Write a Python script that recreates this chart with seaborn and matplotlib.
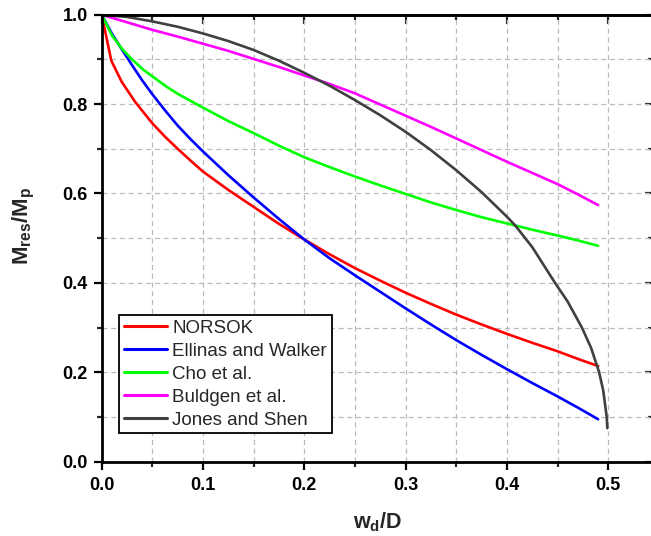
import matplotlib
matplotlib.use("Agg")
import matplotlib.pyplot as plt
from matplotlib.ticker import MultipleLocator, FormatStrFormatter
import seaborn as sns

# Residual moment capacity of dented tubes, M_res/M_p versus dent depth ratio w_d/D
norsok_x = [0.0, 0.0095, 0.0197, 0.033, 0.05, 0.0625, 0.075, 0.0875, 0.1, 0.125, 0.15,
            0.175, 0.2, 0.225, 0.25, 0.275, 0.3, 0.325, 0.35, 0.375, 0.4, 0.425, 0.45,
            0.47, 0.49]
norsok_y = [1.0, 0.897, 0.850, 0.805, 0.757, 0.727, 0.700, 0.674, 0.649, 0.608, 0.570,
            0.532, 0.497, 0.464, 0.433, 0.405, 0.378, 0.353, 0.329, 0.307, 0.286, 0.266,
            0.247, 0.230, 0.214]

ellinas_x = [0.0, 0.01, 0.02, 0.03, 0.04, 0.05, 0.0625, 0.075, 0.0875, 0.1, 0.125, 0.15,
             0.175, 0.2, 0.225, 0.25, 0.275, 0.3, 0.325, 0.35, 0.375, 0.4, 0.425, 0.45,
             0.47, 0.49]
ellinas_y = [1.0, 0.958, 0.922, 0.887, 0.853, 0.822, 0.786, 0.752, 0.722, 0.694, 0.641,
             0.591, 0.543, 0.497, 0.455, 0.417, 0.380, 0.343, 0.307, 0.272, 0.239, 0.207,
             0.176, 0.146, 0.121, 0.095]

cho_x = [0.0, 0.01, 0.021, 0.03, 0.041, 0.05, 0.064, 0.075, 0.1, 0.125, 0.15, 0.175,
         0.2, 0.225, 0.25, 0.275, 0.3, 0.325, 0.35, 0.375, 0.4, 0.425, 0.45, 0.47, 0.49]
cho_y = [1.0, 0.954, 0.921, 0.900, 0.877, 0.862, 0.839, 0.823, 0.792, 0.762, 0.735,
         0.707, 0.681, 0.659, 0.638, 0.618, 0.599, 0.580, 0.563, 0.547, 0.533, 0.519,
         0.506, 0.495, 0.483]

buldgen_x = [0.0, 0.025, 0.05, 0.075, 0.1, 0.125, 0.15, 0.175, 0.2, 0.225, 0.25, 0.275,
             0.3, 0.325, 0.35, 0.375, 0.4, 0.425, 0.45, 0.47, 0.49]
buldgen_y = [1.0, 0.983, 0.966, 0.951, 0.935, 0.919, 0.901, 0.883, 0.864, 0.845, 0.824,
             0.799, 0.774, 0.749, 0.723, 0.697, 0.671, 0.646, 0.621, 0.598, 0.574]

jones_x = [0.0, 0.025, 0.05, 0.075, 0.1, 0.125, 0.15, 0.175, 0.2, 0.225, 0.25, 0.275,
           0.3, 0.325, 0.35, 0.375, 0.4, 0.408, 0.425, 0.4475, 0.46, 0.474, 0.483,
           0.491, 0.495, 0.4985, 0.4991]
jones_y = [1.0, 0.995, 0.985, 0.973, 0.958, 0.941, 0.921, 0.897, 0.870, 0.841, 0.809,
           0.775, 0.738, 0.697, 0.652, 0.603, 0.548, 0.529, 0.480, 0.400, 0.358, 0.300,
           0.255, 0.200, 0.160, 0.100, 0.075]

series = [
    ("NORSOK", norsok_x, norsok_y, "#FF0000"),
    ("Ellinas and Walker", ellinas_x, ellinas_y, "#0000FF"),
    ("Cho et al.", cho_x, cho_y, "#00FF00"),
    ("Buldgen et al.", buldgen_x, buldgen_y, "#FF00FF"),
    ("Jones and Shen", jones_x, jones_y, "#404040"),
]

sns.set_theme(style="ticks")
plt.rcParams["font.family"] = ["Liberation Sans", "DejaVu Sans"]
plt.rcParams["mathtext.fontset"] = "custom"
plt.rcParams["mathtext.rm"] = "Liberation Sans:bold"
plt.rcParams["mathtext.it"] = "Liberation Sans:bold"
plt.rcParams["mathtext.bf"] = "Liberation Sans:bold"

fig = plt.figure(figsize=(6.51, 5.36), dpi=100)
ax = fig.add_axes([0.1562, 0.1386, 0.8466, 0.834])

for name, xs, ys, col in series:
    sns.lineplot(x=xs, y=ys, ax=ax, color=col, linewidth=1.9, label=name,
                 estimator=None, sort=False)

ax.set_xlim(0, 0.544)
ax.set_ylim(0, 1.0)
ax.xaxis.set_major_locator(MultipleLocator(0.1))
ax.xaxis.set_minor_locator(MultipleLocator(0.05))
ax.yaxis.set_major_locator(MultipleLocator(0.2))
ax.yaxis.set_minor_locator(MultipleLocator(0.1))
ax.xaxis.set_major_formatter(FormatStrFormatter("%.1f"))
ax.yaxis.set_major_formatter(FormatStrFormatter("%.1f"))

ax.grid(True, which="both", color="#BBBBBB", linestyle=(0, (4, 3)), linewidth=0.9)
ax.set_axisbelow(True)

for s in ax.spines.values():
    s.set_linewidth(2.0)
    s.set_color("black")
    s.set_visible(True)

ax.tick_params(axis="both", which="major", direction="out", length=6, width=1.6,
               labelsize=13, colors="black", bottom=True, left=True, top=False, right=False)
ax.tick_params(axis="both", which="minor", direction="out", length=3.5, width=1.6,
               bottom=True, left=True, top=False, right=False)
ax.tick_params(axis="x", which="major", pad=5)
ax.tick_params(axis="y", which="major", pad=4)
for lab in ax.get_xticklabels() + ax.get_yticklabels():
    lab.set_fontweight("bold")

# inward ticks on the top and right frame edges
sec_x = ax.secondary_xaxis("top")
sec_x.xaxis.set_major_locator(MultipleLocator(0.1))
sec_x.xaxis.set_minor_locator(MultipleLocator(0.05))
sec_x.tick_params(which="major", direction="in", length=6.5, width=1.6, labeltop=False)
sec_x.tick_params(which="minor", direction="in", length=3.5, width=1.6)
sec_x.spines["top"].set_linewidth(2.0)
sec_y = ax.secondary_yaxis("right")
sec_y.yaxis.set_major_locator(MultipleLocator(0.2))
sec_y.yaxis.set_minor_locator(MultipleLocator(0.1))
sec_y.tick_params(which="major", direction="in", length=6, width=1.6, labelright=False)
sec_y.tick_params(which="minor", direction="in", length=3.5, width=1.6)

ax.set_xlabel(r"$w_d/D$", fontsize=15.5, labelpad=12)
ax.set_ylabel(r"$M_{res}/M_p$", fontsize=16, labelpad=18)
ax.yaxis.label.set_y(0.527)

leg = ax.legend(loc="upper left", bbox_to_anchor=(0.0314, 0.328), borderaxespad=0,
                fontsize=13.5, handlelength=2.3, handletextpad=0.3, labelspacing=0.31,
                borderpad=0.25, fancybox=False, framealpha=1, edgecolor="black")
leg.get_frame().set_linewidth(1.3)
for line in leg.get_lines():
    line.set_linewidth(2.2)

fig.savefig("out.png", dpi=100)
